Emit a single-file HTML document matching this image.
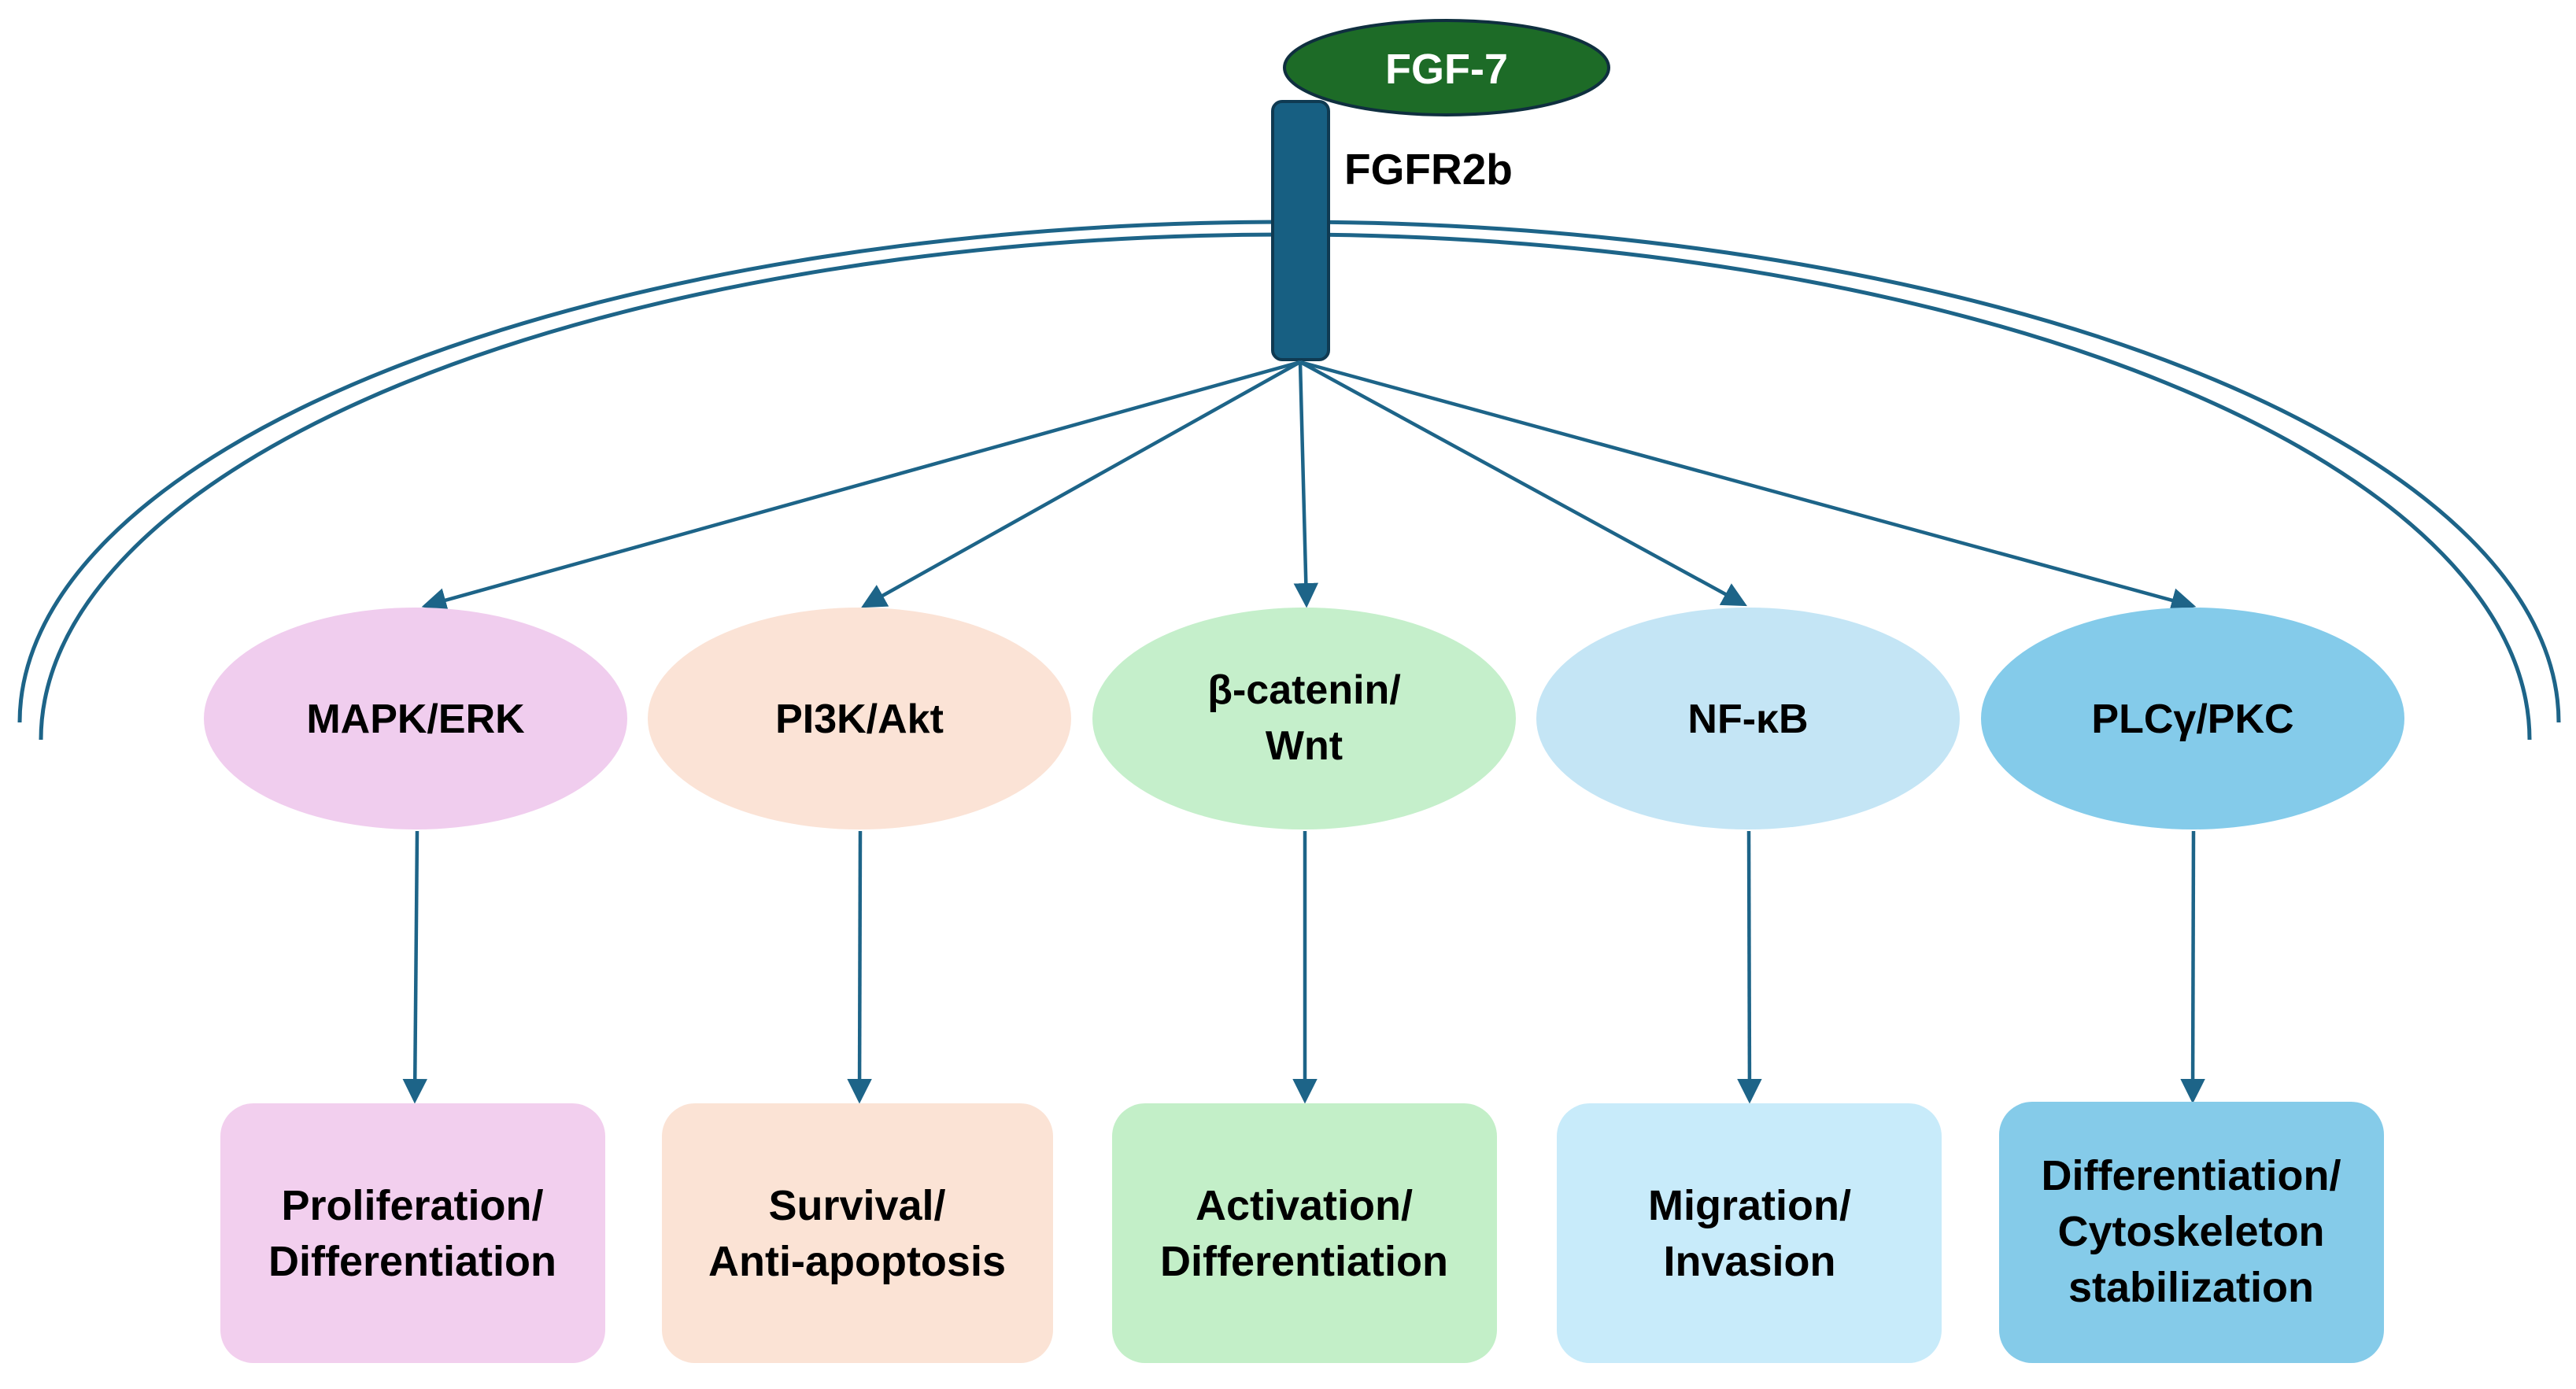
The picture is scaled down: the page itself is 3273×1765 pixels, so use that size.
<!DOCTYPE html>
<html><head><meta charset="utf-8"><style>
html,body{margin:0;padding:0;background:#fff;width:3273px;height:1765px;overflow:hidden}
text{font-family:"Liberation Sans",sans-serif;font-weight:bold}
</style></head><body>
<svg width="3273" height="1765" viewBox="0 0 3273 1765" xmlns="http://www.w3.org/2000/svg">
<defs><marker id="a" markerWidth="7" markerHeight="7" refX="6" refY="3.5" orient="auto" markerUnits="strokeWidth"><path d="M0,0 L7,3.5 L0,7 z" fill="#1d6488"/></marker></defs>
<g fill="none" stroke="#1d6488" stroke-width="5">
<path d="M25,918 A1613,636 0 0 1 3251,918"/>
<path d="M52,940 A1581,642 0 0 1 3214,940"/>
</g>
<rect x="1617" y="129" width="71" height="328" rx="12" fill="#175f82" stroke="#0f3a52" stroke-width="4"/>
<ellipse cx="1838" cy="86" rx="206" ry="60" fill="#1d6b27" stroke="#0f2f3f" stroke-width="4"/>
<text x="1838" y="88" fill="#fff" font-size="54" text-anchor="middle" dominant-baseline="central">FGF-7</text>
<text x="1708" y="234" fill="#000" font-size="55">FGFR2b</text>
<g stroke="#1d6488" stroke-width="4.5" fill="none" marker-end="url(#a)">
<line x1="1652" y1="460" x2="540" y2="770"/>
<line x1="1652" y1="460" x2="1098" y2="770"/>
<line x1="1652" y1="460" x2="1660" y2="768"/>
<line x1="1652" y1="460" x2="2216" y2="768"/>
<line x1="1652" y1="460" x2="2786" y2="770"/>
<line x1="530" y1="1056" x2="527" y2="1398"/>
<line x1="1093" y1="1056" x2="1092" y2="1398"/>
<line x1="1658" y1="1056" x2="1658" y2="1398"/>
<line x1="2222" y1="1056" x2="2223" y2="1398"/>
<line x1="2787" y1="1056" x2="2786" y2="1398"/>
</g>
<ellipse cx="528" cy="913" rx="269" ry="141" fill="#f0cdee"/>
<ellipse cx="1092" cy="913" rx="269" ry="141" fill="#fbe3d6"/>
<ellipse cx="1657" cy="913" rx="269" ry="141" fill="#c5efcb"/>
<ellipse cx="2221" cy="913" rx="269" ry="141" fill="#c4e5f5"/>
<ellipse cx="2786" cy="913" rx="269" ry="141" fill="#84cbea"/>
<g font-size="52" text-anchor="middle" dominant-baseline="central" fill="#000">
<text x="528" y="914">MAPK/ERK</text>
<text x="1092" y="914">PI3K/Akt</text>
<text x="1657" y="877">β-catenin/</text>
<text x="1657" y="948">Wnt</text>
<text x="2221" y="914">NF-κB</text>
<text x="2786" y="914">PLCγ/PKC</text>
</g>
<rect x="280" y="1402" width="489" height="330" rx="42" fill="#f2cfee"/>
<rect x="841" y="1402" width="497" height="330" rx="42" fill="#fbe3d5"/>
<rect x="1413" y="1402" width="489" height="330" rx="42" fill="#c3efc8"/>
<rect x="1978" y="1402" width="489" height="330" rx="42" fill="#c8ebfa"/>
<rect x="2540" y="1400" width="489" height="332" rx="42" fill="#85cbe9"/>
<g font-size="54" text-anchor="middle" dominant-baseline="central" fill="#000">
<text x="524" y="1532">Proliferation/</text>
<text x="524" y="1603">Differentiation</text>
<text x="1089" y="1532">Survival/</text>
<text x="1089" y="1603">Anti-apoptosis</text>
<text x="1657" y="1532">Activation/</text>
<text x="1657" y="1603">Differentiation</text>
<text x="2223" y="1532">Migration/</text>
<text x="2223" y="1603">Invasion</text>
<text x="2784" y="1494">Differentiation/</text>
<text x="2784" y="1565">Cytoskeleton</text>
<text x="2784" y="1636">stabilization</text>
</g>
</svg>
</body></html>
